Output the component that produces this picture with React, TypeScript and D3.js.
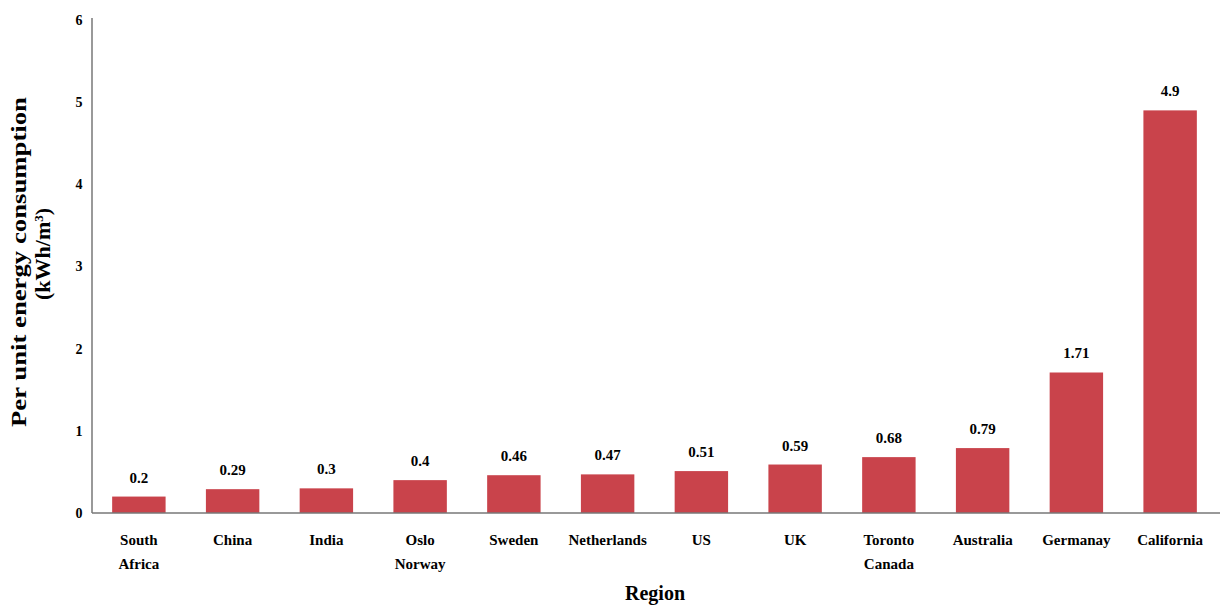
import React from "react";
import * as d3 from "d3";

const regions: string[][] = [
  ["South", "Africa"], ["China"], ["India"], ["Oslo", "Norway"], ["Sweden"], ["Netherlands"],
  ["US"], ["UK"], ["Toronto", "Canada"], ["Australia"], ["Germanay"], ["California"],
];
const values: number[] = [0.2, 0.29, 0.3, 0.4, 0.46, 0.47, 0.51, 0.59, 0.68, 0.79, 1.71, 4.9];
const valueLabels: string[] = ["0.2", "0.29", "0.3", "0.4", "0.46", "0.47", "0.51", "0.59", "0.68", "0.79", "1.71", "4.9"];
const yTicks: number[] = [0, 1, 2, 3, 4, 5, 6];

export default function App() {
  const W = 1220, H = 606;
  const left = 92, right = 1217, top = 20, bottom = 513;
  const font = "'Liberation Serif', 'Times New Roman', serif";
  const keys = regions.map((r) => r.join(" "));
  const x = d3.scaleBand<string>().domain(keys).range([left, right]).paddingInner(0.43).paddingOuter(0.215);
  const y = d3.scaleLinear().domain([0, 6]).range([bottom, top]);
  return (
    <svg width={W} height={H} style={{ position: "absolute", left: 0, top: 0, background: "#fff" }}>
      {values.map((v, i) => (
        <rect key={i} x={x(keys[i])} y={y(v)} width={x.bandwidth()} height={bottom - y(v)} fill="#c9434b" />
      ))}
      <line x1={left} y1={top - 2} x2={left} y2={bottom} stroke="#777" strokeWidth={1.5} />
      <line x1={left} y1={bottom} x2={W} y2={bottom} stroke="#777" strokeWidth={1.5} />
      {yTicks.map((t) => (
        <text key={t} x={79} y={y(t)} dy="0.35em" textAnchor="middle" fontFamily={font} fontWeight="bold" fontSize={14}>{t}</text>
      ))}
      {values.map((v, i) => (
        <text key={i} x={(x(keys[i]) as number) + x.bandwidth() / 2} y={y(v) - 14} textAnchor="middle" fontFamily={font} fontWeight="bold" fontSize={15}>{valueLabels[i]}</text>
      ))}
      {regions.map((r, i) => (
        <text key={i} x={(x(keys[i]) as number) + x.bandwidth() / 2} y={545} textAnchor="middle" fontFamily={font} fontWeight="bold" fontSize={15}>
          {r.map((ln, j) => (
            <tspan key={j} x={(x(keys[i]) as number) + x.bandwidth() / 2} dy={j === 0 ? 0 : 24}>{ln}</tspan>
          ))}
        </text>
      ))}
      <text x={655} y={600} textAnchor="middle" fontFamily={font} fontWeight="bold" fontSize={20}>Region</text>
      <g transform={`translate(26, 262) rotate(-90)`}>
        <text x={0} y={0} textAnchor="middle" fontFamily={font} fontWeight="bold" fontSize={22} textLength={330} lengthAdjust="spacingAndGlyphs">Per unit energy consumption</text>
      </g>
      <g transform={`translate(50, 254) rotate(-90)`}>
        <text x={0} y={0} textAnchor="middle" fontFamily={font} fontWeight="bold" fontSize={22}>
          (kWh/m<tspan dy={-7} fontSize={13}>3</tspan><tspan dy={7}>)</tspan>
        </text>
      </g>
    </svg>
  );
}
